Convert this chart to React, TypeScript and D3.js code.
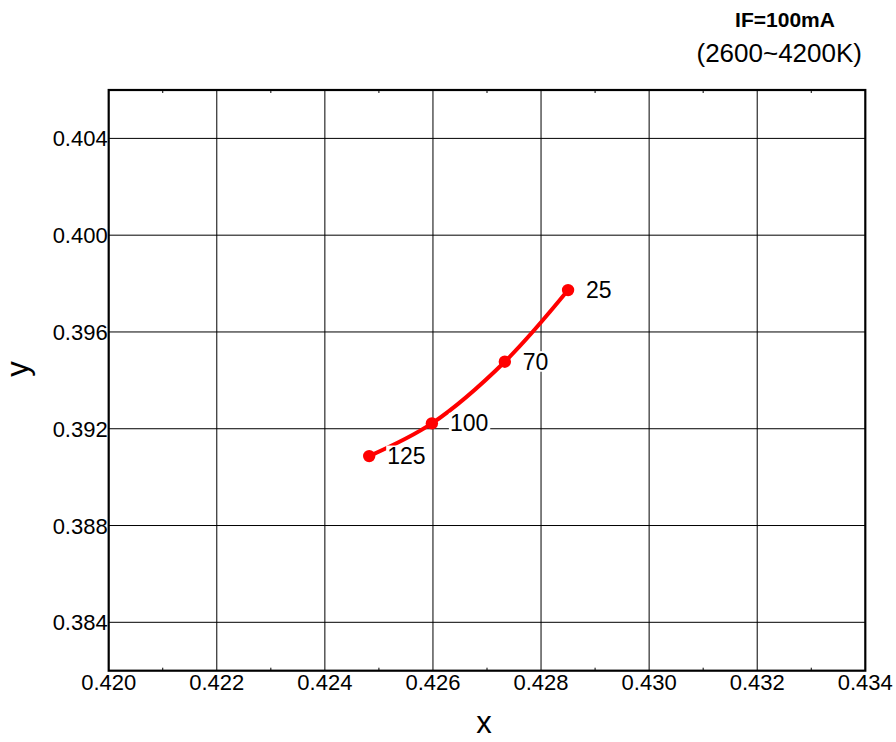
import React from "react";
import * as d3 from "d3";

const xTicks = [0.42, 0.422, 0.424, 0.426, 0.428, 0.43, 0.432, 0.434];
const yTicks = [0.384, 0.388, 0.392, 0.396, 0.4, 0.404];
const xMinorTicks = [0.421, 0.423, 0.425, 0.427, 0.429, 0.431, 0.433];
const pointLabels = ["125", "100", "70", "25"];
const xValues = [0.42482, 0.42598, 0.42733, 0.4285];
const yValues = [0.39087, 0.39222, 0.39477, 0.39773];

const W = 896;
const H = 742;
const left = 108.7;
const right = 865.3;
const top = 90;
const bottom = 670.7;
const FONT = "'Liberation Sans', Arial, Helvetica, sans-serif";

export default function App() {
  const x = d3.scaleLinear().domain([0.42, 0.434]).range([left, right]);
  const y = d3.scaleLinear().domain([0.382, 0.406]).range([bottom, top]);
  const pts: [number, number][] = xValues.map((v, i) => [x(v), y(yValues[i])]);
  const line = d3.line().curve(d3.curveCatmullRom.alpha(0.5))(pts) || "";
  const labelFs = 23;

  return (
    <svg
      width={W}
      height={H}
      style={{ position: "absolute", left: 0, top: 0, background: "#fff" }}
      fontFamily={FONT}
    >
      <rect x={0} y={0} width={W} height={H} fill="#fff" />
      {/* grid */}
      {xTicks.slice(1, -1).map((t) => (
        <line key={"gx" + t} x1={x(t)} x2={x(t)} y1={top} y2={bottom} stroke="#000" strokeWidth={1} />
      ))}
      {yTicks.map((t) => (
        <line key={"gy" + t} x1={left} x2={right} y1={y(t)} y2={y(t)} stroke="#000" strokeWidth={1} />
      ))}
      {/* minor ticks */}
      {xMinorTicks.map((t) => (
        <g key={"mt" + t}>
          <line x1={x(t)} x2={x(t)} y1={bottom} y2={bottom - 3} stroke="#000" strokeWidth={1} />
          <line x1={x(t)} x2={x(t)} y1={top} y2={top + 3} stroke="#000" strokeWidth={1} />
        </g>
      ))}
      {/* frame */}
      <rect x={left} y={top} width={right - left} height={bottom - top} fill="none" stroke="#000" strokeWidth={2.2} />
      {/* tick labels */}
      {yTicks.map((t) => (
        <text key={"yl" + t} x={left - 1} y={y(t) + 8} textAnchor="end" fontSize={22} fill="#000">
          {d3.format(".3f")(t)}
        </text>
      ))}
      {xTicks.map((t) => (
        <text key={"xl" + t} x={x(t)} y={690} textAnchor="middle" fontSize={22} fill="#000">
          {d3.format(".3f")(t)}
        </text>
      ))}
      {/* axis titles */}
      <text x={484} y={733} textAnchor="middle" fontSize={31} fill="#000">x</text>
      <text transform="translate(28,369) rotate(-90)" textAnchor="middle" fontSize={31} fill="#000">y</text>
      {/* titles */}
      <text x={785} y={27} textAnchor="middle" fontSize={21} fontWeight="bold" fill="#000">IF=100mA</text>
      <text x={862} y={62} textAnchor="end" fontSize={26} fill="#000">(2600~4200K)</text>
      {/* data */}
      <path d={line} fill="none" stroke="#ff0000" strokeWidth={4} />
      {pts.map((p, i) => (
        <circle key={"pt" + i} cx={p[0]} cy={p[1]} r={6.2} fill="#ff0000" />
      ))}
      {pts.map((p, i) => {
        const tx = p[0] + 18;
        const ty = p[1] + 8;
        const w = pointLabels[i].length * 0.556 * labelFs;
        return (
          <g key={"lb" + i}>
            <rect x={tx - 1} y={ty - 0.72 * labelFs - 2} width={w + 3} height={0.72 * labelFs + 4} fill="#fff" />
            <text x={tx} y={ty} fontSize={labelFs} fill="#000">{pointLabels[i]}</text>
          </g>
        );
      })}
    </svg>
  );
}
